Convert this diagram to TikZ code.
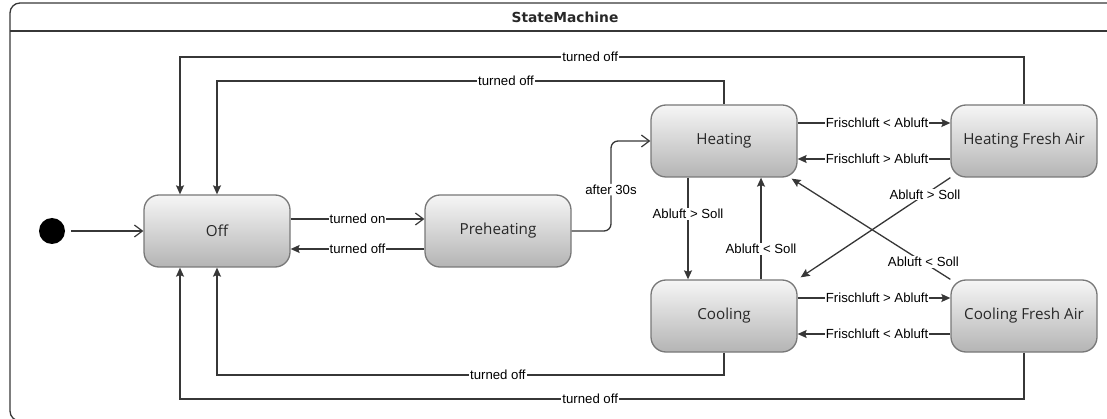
\documentclass[tikz,border=0pt]{standalone}
\usepackage{fontspec}
\setmainfont{Liberation Sans}
\newfontfamily\statefont{Open Sans}
\newfontfamily\titlefont{DejaVu Sans}
\usetikzlibrary{arrows.meta,calc}
\definecolor{linec}{RGB}{55,55,55}
\definecolor{boxline}{RGB}{120,120,120}
\definecolor{gtop}{RGB}{246,246,246}
\definecolor{gbot}{RGB}{180,180,180}
\definecolor{txt}{RGB}{40,40,40}
\tikzset{
  statebox/.style={draw=boxline, line width=1.3pt, rounded corners=15pt,
    top color=gtop, bottom color=gbot, minimum width=146pt, minimum height=72pt,
    inner sep=0pt, font=\statefont\fontsize{15.2}{17}\selectfont, text=txt},
  conn/.style={draw=linec, line width=1.3pt},
  farr/.style={conn, -{Stealth[length=9pt,width=8pt,inset=1.5pt]}},
  oarr/.style={conn, -{Straight Barb[length=8pt,width=12pt,line width=1.2pt]}},
  lbl/.style={fill=white, inner sep=1pt, text=black, font=\fontsize{13.2}{15}\selectfont}
}
\begin{document}
\begin{tikzpicture}[x=1pt,y=-1pt]
\useasboundingbox (0,0) rectangle (1107,419);
\clip (0,0) rectangle (1107,419);
% frame
\draw[draw=linec, line width=1.3pt, rounded corners=10pt] (10,3) rectangle (1130,421);
\draw[draw=linec, line width=1.3pt] (10,31) -- (1130,31);
\node[font=\titlefont\bfseries\fontsize{13.8}{15}\selectfont, text=txt] (title) at (565,17) {StateMachine};

% states
\node[statebox] (Off) at (217,231) {Off};
\node[statebox] (Pre) at (498,231) {Preheating};
\node[statebox] (Heat) at (724,141) {Heating};
\node[statebox] (HFA) at (1024,141) {Heating Fresh Air};
\node[statebox] (Cool) at (724,316) {Cooling};
\node[statebox] (CFA) at (1024,316) {Cooling Fresh Air};

% initial
\node[circle, fill=black, minimum size=26pt, inner sep=0pt] (init) at (52,231) {};
\draw[oarr, shorten <=6pt] (init) -- (Off.west);

% Off <-> Preheating
\draw[oarr] ([yshift=12pt]Off.east) -- node[lbl]{turned on} ([yshift=12pt]Pre.west);
\draw[farr] ([yshift=-18pt]Pre.west) -- node[lbl]{turned off} ([yshift=-18pt]Off.east);

% Preheating -> Heating
\coordinate (bend) at ($(Pre.east)!0.5!(Heat.west)$);
\draw[oarr, rounded corners=7pt] (Pre.east) -| node[lbl, pos=0.73]{after 30s} (bend |- Heat.west) -- (Heat.west);

% Heating <-> HFA
\draw[farr] ([yshift=18pt]Heat.east) -- node[lbl, pos=0.52]{Frischluft < Abluft} ([yshift=18pt]HFA.west);
\draw[farr] ([yshift=-18pt]HFA.west) -- node[lbl, pos=0.48]{Frischluft > Abluft} ([yshift=-18pt]Heat.east);

% Cooling <-> CFA
\draw[farr] ([yshift=18pt]Cool.east) -- node[lbl, pos=0.52]{Frischluft > Abluft} ([yshift=18pt]CFA.west);
\draw[farr] ([yshift=-18pt]CFA.west) -- node[lbl, pos=0.48]{Frischluft < Abluft} ([yshift=-18pt]Cool.east);

% Heating <-> Cooling
\draw[farr] ([xshift=-36pt]Heat.south) -- node[lbl, pos=0.36]{Abluft > Soll} ([xshift=-36pt]Cool.north);
\draw[farr] ([xshift=37pt]Cool.north) -- node[lbl, pos=0.30]{Abluft < Soll} ([xshift=37pt]Heat.south);

% diagonals
\draw[farr] (HFA.south west) -- node[lbl, pos=0.17]{Abluft > Soll} ([xshift=3pt,yshift=2pt]Cool.north east);
\draw[farr] (CFA.north west) -- node[lbl, pos=0.17]{Abluft < Soll} ([xshift=-6pt,yshift=-1pt]Heat.south east);

% turned off returns
\coordinate (offTL) at ([xshift=-37pt]Off.north);
\coordinate (offBL) at ([xshift=-37pt]Off.south);
\draw[farr] (Heat.north) -- (Heat.north |- 0,81) -- node[lbl, pos=0.43]{turned off} (Off.north |- 0,81) -- (Off.north);
\draw[farr] (HFA.north) -- (HFA.north |- 0,57) -- node[lbl, pos=0.514]{turned off} (offTL |- 0,57) -- (offTL);
\draw[farr] (Cool.south) -- (Cool.south |- 0,375) -- node[lbl, pos=0.446]{turned off} (Off.south |- 0,375) -- (Off.south);
\draw[farr] (CFA.south) -- (CFA.south |- 0,399) -- node[lbl, pos=0.514]{turned off} (offBL |- 0,399) -- (offBL);
\end{tikzpicture}
\end{document}
